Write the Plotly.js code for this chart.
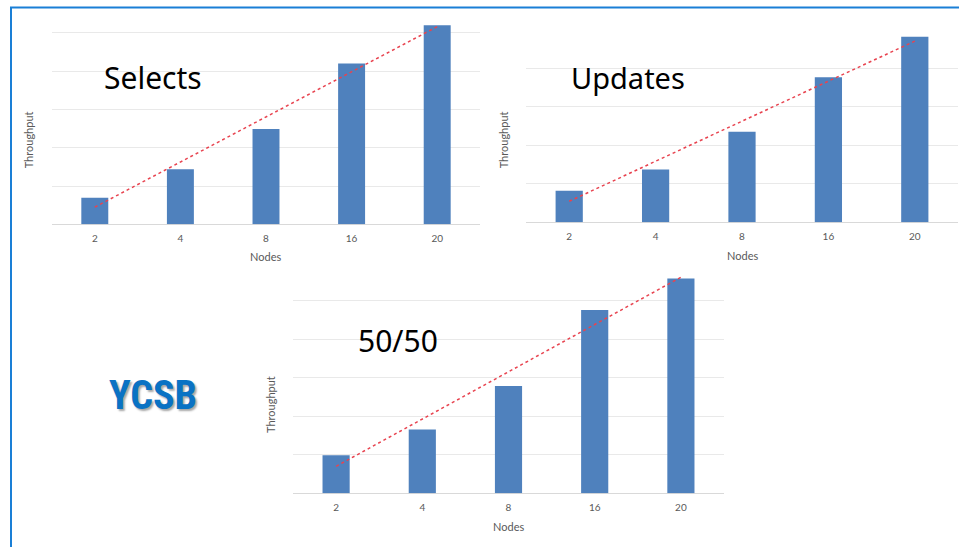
<!DOCTYPE html>
<html>
<head>
<meta charset="utf-8">
<script src="https://cdn.plot.ly/plotly-3.0.1.min.js"></script>
<style>html,body{margin:0;padding:0;background:#fff;}#chart{width:959px;height:547px;}</style>
</head>
<body>
<div id="chart"></div>
<script>
// ---- data (arbitrary throughput units = gridline steps) ----
const nodes = ['2', '4', '8', '16', '20'];
const selects = [0.69, 1.44, 2.49, 4.20, 5.20];
const updates = [0.82, 1.37, 2.35, 3.77, 4.82];
const mixed5050 = [0.99, 1.66, 2.79, 4.76, 5.58];
const panelTitles = ['Selects', 'Updates', '50/50'];
const xTitle = 'Nodes';
const yTitle = 'Throughput';
const bannerText = 'YCSB';

// ---- layout helpers ----
const W = 959, H = 547;
const px = v => v / W;
const py = v => 1 - v / H;

// linear least-squares trendline over category index (like a spreadsheet trendline)
function trend(vals) {
  const n = vals.length;
  const xs = vals.map((_, i) => i);
  const mx = xs.reduce((a, b) => a + b, 0) / n;
  const my = vals.reduce((a, b) => a + b, 0) / n;
  let sxy = 0, sxx = 0;
  xs.forEach((x, i) => { sxy += (x - mx) * (vals[i] - my); sxx += (x - mx) * (x - mx); });
  const slope = sxy / sxx;
  return xs.map(x => my + slope * (x - mx));
}

// panel boxes in pixels
const boxes = [
  {l: 52, r: 480, b: 224.3, t: 22, unit: 38.3, title: [153, 77], tsize: 30, xt: [265.7, 256.7], yt: [28.3, 140]},
  {l: 526, r: 958, b: 222.3, t: 32, unit: 38.5, title: [628, 78], tsize: 29, xt: [742.3, 255.7], yt: [503.3, 140]},
  {l: 293, r: 724, b: 493.3, t: 274, unit: 38.5, title: [398, 340], tsize: 30, xt: [508.3, 526.7], yt: [270, 405]}
];
const series = [selects, updates, mixed5050];

const barColor = '#4f81bd';
const trendColor = '#e8434f';
const gridColor = '#e9e9e9';
const tickFont = {family: 'Lato, "Open Sans", sans-serif', size: 10, color: '#595959'};

const data = [];
const layout = {
  width: W, height: H,
  margin: {l: 0, r: 0, t: 0, b: 0},
  paper_bgcolor: '#ffffff',
  plot_bgcolor: 'rgba(0,0,0,0)',
  showlegend: false,
  annotations: [],
  shapes: [{
    type: 'rect', xref: 'paper', yref: 'paper',
    x0: px(11), x1: 1.05, y0: -0.05, y1: py(7.5),
    line: {color: '#1a7fd6', width: 2}, fillcolor: 'rgba(0,0,0,0)', layer: 'below'
  }]
};

boxes.forEach((bx, i) => {
  const k = i === 0 ? '' : String(i + 1);
  const xa = 'x' + k, ya = 'y' + k;
  data.push({
    type: 'bar', x: nodes, y: series[i], xaxis: xa, yaxis: ya,
    width: 0.315, marker: {color: barColor, line: {width: 0}}, hoverinfo: 'x+y'
  });
  data.push({
    type: 'scatter', mode: 'lines', x: nodes, y: trend(series[i]), xaxis: xa, yaxis: ya,
    line: {color: trendColor, width: 1.5, dash: 'dot'}, hoverinfo: 'skip'
  });
  layout['xaxis' + k] = {
    domain: [px(bx.l), px(bx.r)], anchor: ya, type: 'category',
    showgrid: false, showline: false, zeroline: false, ticks: '',
    tickfont: tickFont, ticklabelstandoff: 7, fixedrange: true
  };
  layout['yaxis' + k] = {
    domain: [py(bx.b), py(bx.t)], anchor: xa,
    range: [0, (bx.b - bx.t) / bx.unit], tick0: 0, dtick: 1,
    showticklabels: false, showgrid: true, gridcolor: gridColor, gridwidth: 1,
    zeroline: true, zerolinecolor: '#d9d9d9', zerolinewidth: 1,
    showline: false, ticks: '', fixedrange: true
  };
  layout.annotations.push({
    xref: 'paper', yref: 'paper', x: px(bx.title[0]), y: py(bx.title[1]),
    xanchor: 'center', yanchor: 'middle', showarrow: false, text: panelTitles[i],
    font: {family: '"Noto Sans", "Open Sans", sans-serif', size: bx.tsize, color: '#000000'}
  });
  layout.annotations.push({
    xref: 'paper', yref: 'paper', x: px(bx.xt[0]), y: py(bx.xt[1]),
    xanchor: 'center', yanchor: 'middle', showarrow: false, text: xTitle,
    font: {family: 'Lato, "Open Sans", sans-serif', size: 11, color: '#595959'}
  });
  layout.annotations.push({
    xref: 'paper', yref: 'paper', x: px(bx.yt[0]), y: py(bx.yt[1]),
    xanchor: 'center', yanchor: 'middle', showarrow: false, text: yTitle, textangle: -90,
    font: {family: 'Lato, "Open Sans", sans-serif', size: 11, color: '#595959'}
  });
});

layout.annotations.push({
  xref: 'paper', yref: 'paper', x: px(152.5), y: py(395),
  xanchor: 'center', yanchor: 'middle', showarrow: false, text: bannerText,
  font: {family: '"Liberation Sans Narrow", "Roboto Condensed", "Noto Sans", sans-serif', size: 40, weight: 700, color: '#0a72c4',
         shadow: '2px 2px 2px rgba(0,0,0,0.35)'}
});

Plotly.newPlot('chart', data, layout, {displayModeBar: false, staticPlot: true});
</script>
</body>
</html>
